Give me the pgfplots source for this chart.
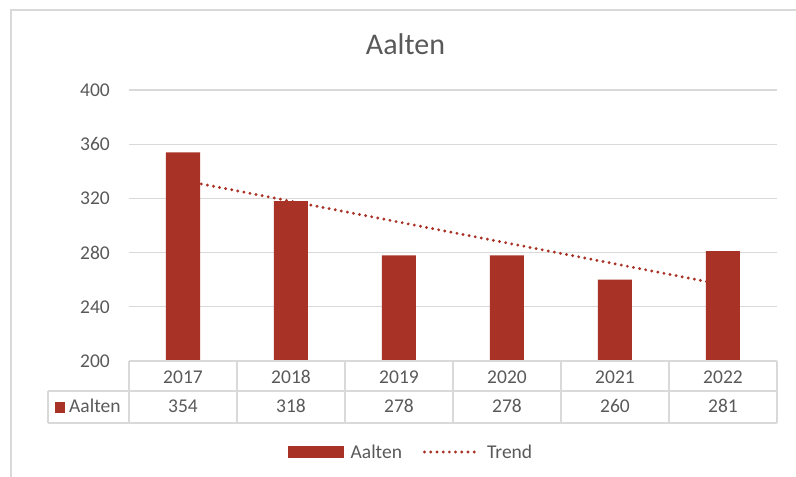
\documentclass[border=0pt]{standalone}
\usepackage{fontspec}
\setmainfont{Carlito}
\usepackage{pgfplots}
\pgfplotsset{compat=1.18}
\definecolor{barred}{RGB}{169,50,38}
\definecolor{txtgray}{RGB}{89,89,89}
\definecolor{linegray}{RGB}{217,217,217}
\newcommand{\lbl}{\fontsize{19.5}{23}\selectfont}

\begin{document}
\begin{tikzpicture}
\path[use as bounding box] (0,0) rectangle (796pt,477pt);
% chart frame, only top and left edge are in view
\draw[linegray, line width=2pt] (11pt,0pt) -- (11pt,467pt) -- (796pt,467pt);
\node[anchor=base, inner sep=0pt, text=txtgray, font=\fontsize{30}{36}\selectfont] at (405.5pt,422pt) {Aalten};

\begin{axis}[
  at={(129pt,116pt)}, anchor=south west,
  width=648pt, height=271pt, scale only axis,
  xmin=-0.5, xmax=5.5, ymin=200, ymax=400,
  ytick={200,240,...,400},
  xtick={0,...,5},
  xticklabels={2017,2018,2019,2020,2021,2022},
  axis line style={draw=none},
  tick style={draw=none}, major tick length=0pt,
  ymajorgrids, grid style={linegray, line width=1.3pt},
  /pgf/number format/assume math mode=true,
  ticklabel style={font=\lbl, text=txtgray},
  yticklabel style={anchor=east, inner sep=0pt, xshift=-19pt},
  xticklabel style={anchor=base, inner sep=0pt, yshift=-22pt},
  clip mode=individual,
  legend columns=2,
  legend style={draw=none, fill=none, font=\lbl, text=txtgray,
    at={(0.2454,-0.3358)}, anchor=west, inner sep=0pt,
    /tikz/every odd column/.append style={column sep=5pt},
    /tikz/every even column/.append style={column sep=19pt}},
]
\addlegendimage{legend image code/.code={\fill[barred] (0pt,-5.5pt) rectangle (55pt,5.5pt);}}
\addlegendentry{Aalten}
\addlegendimage{legend image code/.code={\draw[barred, line width=3.2pt, line cap=round, dash pattern=on 0pt off 6.2pt] (0pt,0pt) -- (54pt,0pt);}}
\addlegendentry{Trend}

% linear trend, under the bars
\addplot[forget plot, barred, line width=3.2pt, line cap=round, dash pattern=on 0pt off 6.2pt]
  coordinates {(0,333.3) (5,256.3)};
\addplot[forget plot, ybar, bar width=34pt, fill=barred, draw=none]
  coordinates {(0,354) (1,318) (2,278) (3,278) (4,260) (5,281)};

% data table values
\node[anchor=base, inner sep=0pt, font=\lbl, text=txtgray, yshift=-52pt] at (axis cs:0,200) {354};
\node[anchor=base, inner sep=0pt, font=\lbl, text=txtgray, yshift=-52pt] at (axis cs:1,200) {318};
\node[anchor=base, inner sep=0pt, font=\lbl, text=txtgray, yshift=-52pt] at (axis cs:2,200) {278};
\node[anchor=base, inner sep=0pt, font=\lbl, text=txtgray, yshift=-52pt] at (axis cs:3,200) {278};
\node[anchor=base, inner sep=0pt, font=\lbl, text=txtgray, yshift=-52pt] at (axis cs:4,200) {260};
\node[anchor=base, inner sep=0pt, font=\lbl, text=txtgray, yshift=-52pt] at (axis cs:5,200) {281};
\end{axis}

% data table grid
\begin{scope}[linegray, line width=1.5pt]
\draw (129pt,116pt) -- (777pt,116pt);
\draw (48pt,86pt) -- (777pt,86pt);
\draw (48pt,54pt) -- (777pt,54pt);
\draw (48pt,86pt) -- (48pt,54pt);
\foreach \x in {129,237,345,453,561,669,777}
  \draw (\x pt,116pt) -- (\x pt,54pt);
\end{scope}
\fill[barred] (55pt,64pt) rectangle (65pt,75pt);
\node[anchor=base west, inner sep=0pt, font=\lbl, text=txtgray] at (69pt,64pt) {Aalten};
\end{tikzpicture}
\end{document}
